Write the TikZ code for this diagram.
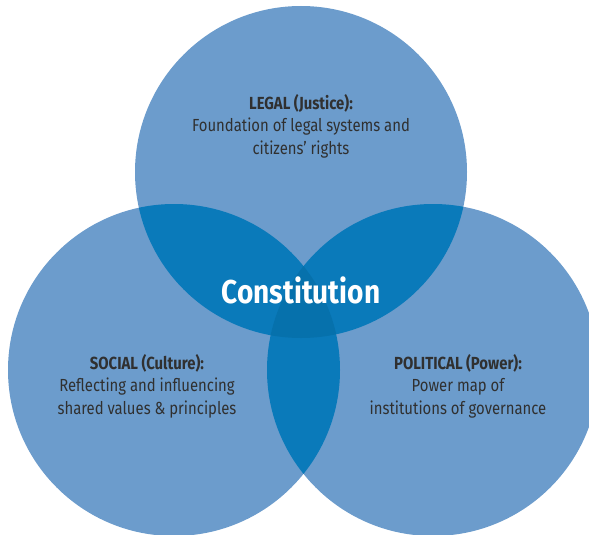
\documentclass[tikz,border=0pt]{standalone}
\usepackage{fontspec}
\setmainfont{Fira Sans}[FakeStretch=0.85]
\usetikzlibrary{positioning}
\definecolor{ringblue}{RGB}{108,156,204}
\definecolor{lensblue}{RGB}{10,122,186}
\definecolor{coreblue}{RGB}{6,113,172}
\definecolor{inkgray}{RGB}{48,48,48}

\begin{document}
\begin{tikzpicture}[x=1pt,y=-1pt,
  areatext/.style={text=inkgray, align=center, font=\fontsize{17.5}{22.5}\selectfont}]
\clip (0,0) rectangle (589,535);
\def\legalcirc{(301,172) circle (166pt)}
\def\socialcirc{(174,370) circle (166pt)}
\def\politicalcirc{(433,370) circle (166pt)}
% the three circles
\fill[ringblue] \legalcirc;
\fill[ringblue] \socialcirc;
\fill[ringblue] \politicalcirc;
% pairwise overlaps
\begin{scope}
\clip \legalcirc;
\fill[lensblue] \socialcirc;
\fill[lensblue] \politicalcirc;
\end{scope}
\begin{scope}
\clip \socialcirc;
\fill[lensblue] \politicalcirc;
\end{scope}
% middle of all three
\begin{scope}
\clip \legalcirc;
\clip \socialcirc;
\fill[coreblue] \politicalcirc;
\end{scope}
\node[areatext] (legal) at (301,126)
  {\textbf{LEGAL (Justice):}\\Foundation of legal systems and\\citizens’ rights};
\node[areatext] (social) at (147,386)
  {\textbf{SOCIAL (Culture):}\\Reflecting and influencing\\shared values \& principles};
\node[areatext] (political) at (458,386)
  {\textbf{POLITICAL (Power):}\\Power map of\\institutions of governance};
\node[text=white, font=\bfseries\fontsize{33}{33}\selectfont] (constitution) at (301,290) {Constitution};
\end{tikzpicture}
\end{document}
